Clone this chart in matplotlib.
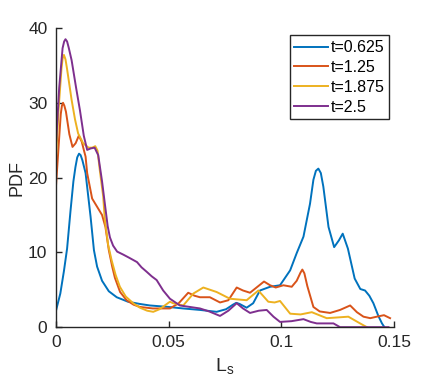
import matplotlib
matplotlib.use("Agg")
import matplotlib.pyplot as plt

plt.rcParams['font.family'] = ['Liberation Sans', 'DejaVu Sans']
plt.rcParams['mathtext.fontset'] = 'custom'
plt.rcParams['mathtext.rm'] = 'Liberation Sans'
plt.rcParams['mathtext.it'] = 'Liberation Sans'

labels = ["t=0.625", "t=1.25", "t=1.875", "t=2.5"]
colors = ["#0072BD", "#D95319", "#EDB120", "#7E2F8E"]

x_t0625 = [0, 0.002, 0.0036, 0.005, 0.0065, 0.0078, 0.0087, 0.0095, 0.0103, 0.011, 0.0118,
           0.0132, 0.0154, 0.0169, 0.0183, 0.0205, 0.0235, 0.027, 0.032, 0.0373, 0.0417, 0.05,
           0.0564, 0.064, 0.0713, 0.0755, 0.0785, 0.080, 0.0815, 0.0846, 0.0875, 0.0905, 0.095,
           0.0994, 0.1039, 0.1068, 0.1098, 0.1127, 0.1142, 0.1153, 0.1164, 0.1175, 0.1186,
           0.1209, 0.1234, 0.1255, 0.1272, 0.1295, 0.1325, 0.135, 0.1371, 0.139, 0.1408,
           0.143, 0.1446, 0.1457]
y_t0625 = [2.1, 4.5, 7.5, 10.5, 15.5, 19.5, 21.4, 22.7, 23.2, 23.0, 22.3,
           20.6, 14.8, 10.3, 8.1, 6.2, 4.8, 4.0, 3.4, 3.1, 2.9, 2.7,
           2.5, 2.3, 2.05, 2.4, 3.0, 3.25, 3.1, 2.6, 3.2, 4.9, 5.4,
           5.6, 7.6, 9.9, 12.1, 16.5, 19.7, 20.9, 21.2, 20.6, 18.8,
           13.4, 10.7, 11.6, 12.5, 10.5, 6.5, 5.1, 4.9, 4.2, 3.2,
           1.5, 0.5, 0.0]

x_t125 = [0, 0.0012, 0.0022, 0.0027, 0.0032, 0.0038, 0.0045, 0.006, 0.0074, 0.0088, 0.0102,
          0.0115, 0.0125, 0.0132, 0.0139, 0.0161, 0.0183, 0.0205, 0.022, 0.0235, 0.025, 0.0262,
          0.0285, 0.0314, 0.0345, 0.0373, 0.043, 0.0506, 0.0545, 0.0587, 0.0615, 0.0639, 0.0683,
          0.0728, 0.0765, 0.0802, 0.083, 0.0861, 0.0923, 0.095, 0.0975, 0.1009, 0.1046, 0.1068,
          0.1085, 0.1093, 0.1102, 0.1115, 0.1142, 0.117, 0.1216, 0.126, 0.1305, 0.1335, 0.1364,
          0.1394, 0.1423, 0.1455, 0.1482]
y_t125 = [18.5, 24.0, 28.5, 29.6, 30.0, 29.6, 28.8, 25.8, 24.1, 24.6, 25.6,
          24.8, 23.6, 22.8, 20.6, 17.2, 16.1, 15.0, 13.4, 10.3, 8.1, 6.6,
          4.7, 3.6, 3.0, 2.7, 2.5, 2.5, 3.2, 4.6, 4.2, 4.0, 4.0,
          3.3, 3.6, 5.3, 4.9, 4.6, 6.1, 5.6, 5.3, 5.6, 5.4, 6.2,
          7.3, 7.7, 7.2, 5.5, 2.7, 2.1, 1.9, 2.3, 2.9, 2.0, 1.4,
          1.2, 1.4, 1.6, 1.2]

x_t1875 = [0, 0.0012, 0.0025, 0.003, 0.0036, 0.0043, 0.005, 0.007, 0.0085, 0.0099, 0.0121,
           0.0145, 0.0161, 0.0175, 0.0185, 0.0195, 0.021, 0.0217, 0.0232, 0.0247, 0.0265, 0.0284,
           0.031, 0.0343, 0.0373, 0.0405, 0.0432, 0.046, 0.0506, 0.052, 0.0565, 0.061, 0.0654,
           0.0713, 0.0772, 0.0846, 0.0898, 0.0942, 0.097, 0.0994, 0.1039, 0.1085, 0.1135, 0.1201,
           0.125, 0.1297, 0.1349, 0.1379]
y_t1875 = [22.0, 29.0, 34.5, 35.9, 36.4, 35.8, 34.5, 30.4, 27.8, 25.9, 24.6,
           24.0, 24.0, 24.2, 23.6, 21.0, 17.5, 14.5, 11.0, 9.0, 7.0, 5.4,
           4.1, 3.2, 2.6, 2.2, 2.05, 2.4, 3.4, 3.2, 2.9, 4.5, 5.3,
           4.7, 3.8, 3.6, 4.9, 3.4, 3.3, 3.5, 1.8, 1.7, 2.0, 1.2,
           1.3, 1.4, 0.5, 0.0]

x_t25 = [0, 0.0015, 0.003, 0.0037, 0.0043, 0.005, 0.0057, 0.007, 0.009, 0.0107, 0.0124,
         0.0139, 0.0155, 0.0172, 0.0188, 0.0205, 0.0217, 0.023, 0.024, 0.0254, 0.0272, 0.0299,
         0.0324, 0.036, 0.038, 0.0403, 0.0425, 0.0447, 0.0476, 0.0506, 0.055, 0.0639, 0.068,
         0.0728, 0.0765, 0.0802, 0.083, 0.0861, 0.09, 0.0935, 0.0965, 0.0994, 0.1045, 0.1098,
         0.113, 0.1157, 0.1231, 0.126, 0.1475]
y_t25 = [24.0, 32.0, 37.3, 38.2, 38.5, 38.2, 37.4, 35.7, 32.0, 29.0, 25.6,
         23.7, 23.9, 24.0, 23.0, 19.5, 16.6, 13.5, 12.0, 10.9, 10.1, 9.7,
         9.3, 8.7, 8.0, 7.4, 6.8, 6.3, 4.9, 3.8, 2.9, 2.5, 2.1,
         1.5, 2.2, 3.2, 2.5, 1.9, 2.2, 2.3, 1.4, 0.7, 0.8, 1.07,
         0.7, 0.5, 0.5, 0.0, 0.0]

xs = [x_t0625, x_t125, x_t1875, x_t25]
ys = [y_t0625, y_t125, y_t1875, y_t25]

x_ticks = [0, 0.05, 0.1, 0.15]
x_ticklabels = ["0", "0.05", "0.1", "0.15"]
y_ticks = [0, 10, 20, 30, 40]

fig = plt.figure(figsize=(4.36, 3.89), dpi=100)
ax = fig.add_axes([0.128, 0.159, 0.776, 0.769])

for x, y, c, lab in zip(xs, ys, colors, labels):
    ax.plot(x, y, color=c, lw=1.4, label=lab, solid_joinstyle='round')

ax.set_xlim(0, 0.15)
ax.set_ylim(0, 40)
ax.set_xticks(x_ticks)
ax.set_xticklabels(x_ticklabels)
ax.set_yticks(y_ticks)
for s in ['top', 'right']:
    ax.spines[s].set_visible(False)
for s in ['left', 'bottom']:
    ax.spines[s].set_color('#262626')
    ax.spines[s].set_linewidth(1.0)
ax.tick_params(direction='in', length=4, width=1.0, colors='#262626',
               labelsize=12.5, pad=6)
ax.set_ylabel('PDF', fontsize=13, color='#262626', labelpad=2)
ax.set_xlabel(r'L$_\mathrm{s}$', fontsize=14, color='#262626', labelpad=4)

leg = ax.legend(loc='upper right', bbox_to_anchor=(0.985, 0.975), fontsize=11.5,
                frameon=True, fancybox=False, edgecolor='#262626', framealpha=1,
                handlelength=2.1, handletextpad=0.15, labelspacing=0.3,
                borderpad=0.3, borderaxespad=0.0)
leg.get_frame().set_linewidth(1.0)

fig.savefig('out.png', dpi=100)
